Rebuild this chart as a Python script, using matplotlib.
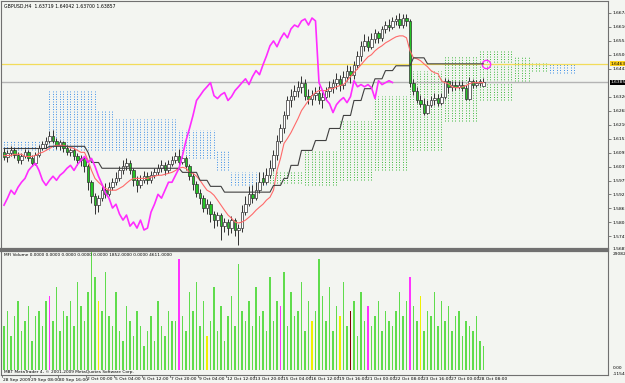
import numpy as np
import matplotlib.pyplot as plt
from matplotlib import font_manager
from matplotlib.patches import Rectangle
from matplotlib.transforms import blended_transform_factory

# ---- GBPUSD H4 data ----
opens = [1.6096, 1.6075, 1.6092, 1.6104, 1.6083, 1.6063, 1.6079, 1.6096, 1.6071, 1.6050,
         1.6083, 1.6112, 1.6129, 1.6145, 1.6162, 1.6145, 1.6125, 1.6137, 1.6112, 1.6096,
         1.6104, 1.6079, 1.6063, 1.6071, 1.6038, 1.5972, 1.5914, 1.5877, 1.5906, 1.5939,
         1.5922, 1.5951, 1.5972, 1.5988, 1.6021, 1.6038, 1.6050, 1.6021, 1.5980, 1.5959,
         1.5980, 1.5997, 1.5980, 1.6001, 1.6013, 1.6030, 1.6042, 1.6021, 1.6046, 1.6063,
         1.6079, 1.6054, 1.6071, 1.6038, 1.5997, 1.5964, 1.5927, 1.5906, 1.5865, 1.5881,
         1.5840, 1.5815, 1.5836, 1.5790, 1.5807, 1.5782, 1.5815, 1.5774, 1.5782, 1.5848,
         1.5881, 1.5922, 1.5906, 1.5939, 1.5988, 1.5972, 1.6001, 1.6030, 1.6083, 1.6145,
         1.6195, 1.6249, 1.6311, 1.6331, 1.6352, 1.6368, 1.6385, 1.6331, 1.6319, 1.6335,
         1.6344, 1.6311, 1.6327, 1.6352, 1.6368, 1.6385, 1.6401, 1.6377, 1.6410, 1.6435,
         1.6418, 1.6459, 1.6496, 1.6538, 1.6558, 1.6534, 1.6567, 1.6591, 1.6571, 1.6608,
         1.6624, 1.6616, 1.6641, 1.6649, 1.6624, 1.6653, 1.6641, 1.6385, 1.6352, 1.6315,
         1.6298, 1.6261, 1.6294, 1.6311, 1.6323, 1.6302, 1.6327, 1.6393, 1.6368, 1.6377,
         1.6368, 1.6377, 1.6364, 1.6319, 1.6393, 1.6377, 1.6385, 1.63719]
highs = [1.6112, 1.6104, 1.6121, 1.6116, 1.6096, 1.6092, 1.6108, 1.6104, 1.6083, 1.6096,
         1.6125, 1.6145, 1.6158, 1.6183, 1.6187, 1.6154, 1.6149, 1.6145, 1.6125, 1.6116,
         1.6112, 1.6092, 1.6083, 1.6079, 1.6046, 1.5980, 1.5927, 1.5918, 1.5955, 1.5968,
         1.5972, 1.5988, 1.6013, 1.6038, 1.6063, 1.6071, 1.6063, 1.6030, 1.5997, 1.6001,
         1.6017, 1.6013, 1.6017, 1.6030, 1.6046, 1.6063, 1.6054, 1.6063, 1.6079, 1.6096,
         1.6108, 1.6088, 1.6079, 1.6046, 1.6009, 1.5976, 1.5943, 1.5918, 1.5902, 1.5893,
         1.5852, 1.5848, 1.5844, 1.5823, 1.5819, 1.5832, 1.5823, 1.5799, 1.5877, 1.5914,
         1.5955, 1.5959, 1.5972, 1.6013, 1.6013, 1.6030, 1.6063, 1.6104, 1.6170, 1.6212,
         1.6269, 1.6331, 1.6360, 1.6377, 1.6393, 1.6414, 1.6401, 1.6360, 1.6356, 1.6368,
         1.6373, 1.6348, 1.6368, 1.6393, 1.6401, 1.6426, 1.6418, 1.6435, 1.6459, 1.6455,
         1.6476, 1.6517, 1.6558, 1.6587, 1.6579, 1.6591, 1.6608, 1.6600, 1.6620, 1.6641,
         1.6649, 1.6658, 1.6666, 1.6674, 1.6670, 1.6670, 1.6649, 1.6401, 1.6368, 1.6335,
         1.6323, 1.6311, 1.6331, 1.6344, 1.6340, 1.6344, 1.6406, 1.6401, 1.6393, 1.6393,
         1.6393, 1.6393, 1.6377, 1.6410, 1.6401, 1.6397, 1.6401, 1.64042]
lows = [1.6063, 1.6054, 1.6079, 1.6071, 1.6050, 1.6046, 1.6071, 1.6059, 1.6038, 1.6042,
        1.6075, 1.6104, 1.6116, 1.6133, 1.6133, 1.6108, 1.6104, 1.6096, 1.6083, 1.6079,
        1.6063, 1.6042, 1.6038, 1.6013, 1.5939, 1.5885, 1.5840, 1.5848, 1.5893, 1.5906,
        1.5914, 1.5939, 1.5959, 1.5976, 1.6005, 1.6021, 1.6005, 1.5955, 1.5931, 1.5947,
        1.5968, 1.5964, 1.5968, 1.5988, 1.6001, 1.6013, 1.6001, 1.6009, 1.6038, 1.6050,
        1.6042, 1.6046, 1.6021, 1.5980, 1.5939, 1.5910, 1.5881, 1.5848, 1.5840, 1.5807,
        1.5782, 1.5790, 1.5732, 1.5765, 1.5753, 1.5761, 1.5749, 1.5712, 1.5765, 1.5836,
        1.5873, 1.5885, 1.5898, 1.5927, 1.5959, 1.5964, 1.5988, 1.6017, 1.6063, 1.6133,
        1.6178, 1.6236, 1.6286, 1.6311, 1.6327, 1.6344, 1.6311, 1.6298, 1.6294, 1.6311,
        1.6298, 1.6278, 1.6311, 1.6327, 1.6344, 1.6360, 1.6352, 1.6360, 1.6393, 1.6385,
        1.6401, 1.6443, 1.6476, 1.6517, 1.6517, 1.6525, 1.6550, 1.6550, 1.6558, 1.6591,
        1.6600, 1.6608, 1.6624, 1.6612, 1.6612, 1.6620, 1.6368, 1.6335, 1.6302, 1.6286,
        1.6249, 1.6253, 1.6286, 1.6294, 1.6290, 1.6294, 1.6319, 1.6344, 1.6352, 1.6356,
        1.6360, 1.6352, 1.6311, 1.6311, 1.6364, 1.6368, 1.6373, 1.63700]
closes = [1.6075, 1.6092, 1.6104, 1.6083, 1.6063, 1.6079, 1.6096, 1.6071, 1.6050, 1.6083,
          1.6112, 1.6129, 1.6145, 1.6162, 1.6145, 1.6125, 1.6137, 1.6112, 1.6096, 1.6104,
          1.6079, 1.6063, 1.6071, 1.6038, 1.5972, 1.5914, 1.5877, 1.5906, 1.5939, 1.5922,
          1.5951, 1.5972, 1.5988, 1.6021, 1.6038, 1.6050, 1.6021, 1.5980, 1.5959, 1.5980,
          1.5997, 1.5980, 1.6001, 1.6013, 1.6030, 1.6042, 1.6021, 1.6046, 1.6063, 1.6079,
          1.6054, 1.6071, 1.6038, 1.5997, 1.5964, 1.5927, 1.5906, 1.5865, 1.5881, 1.5840,
          1.5815, 1.5836, 1.5790, 1.5807, 1.5782, 1.5815, 1.5774, 1.5782, 1.5848, 1.5881,
          1.5922, 1.5906, 1.5939, 1.5972, 1.5972, 1.6001, 1.6030, 1.6083, 1.6145, 1.6195,
          1.6249, 1.6311, 1.6331, 1.6352, 1.6368, 1.6385, 1.6331, 1.6319, 1.6335, 1.6344,
          1.6311, 1.6327, 1.6352, 1.6368, 1.6385, 1.6401, 1.6377, 1.6410, 1.6435, 1.6418,
          1.6459, 1.6496, 1.6538, 1.6558, 1.6534, 1.6567, 1.6591, 1.6571, 1.6608, 1.6624,
          1.6616, 1.6641, 1.6649, 1.6624, 1.6653, 1.6641, 1.6385, 1.6352, 1.6315, 1.6298,
          1.6261, 1.6294, 1.6311, 1.6323, 1.6302, 1.6327, 1.6393, 1.6368, 1.6377, 1.6368,
          1.6377, 1.6364, 1.6319, 1.6393, 1.6377, 1.6385, 1.6393, 1.63857]

tenkan = [1.6083, 1.6083, 1.6083, 1.6088, 1.6088, 1.6088, 1.6079, 1.6079, 1.6079, 1.6083,
          1.6092, 1.6096, 1.6104, 1.6112, 1.6121, 1.6125, 1.6125, 1.6125, 1.6121, 1.6116,
          1.6112, 1.6104, 1.6096, 1.6096, 1.6063, 1.6021, 1.5988, 1.5972, 1.5959, 1.5947,
          1.5939, 1.5939, 1.5939, 1.5947, 1.5955, 1.5968, 1.5980, 1.5988, 1.5988, 1.5988,
          1.5988, 1.5988, 1.5993, 1.5997, 1.6001, 1.6001, 1.6005, 1.6009, 1.6013, 1.6021,
          1.6030, 1.6034, 1.6030, 1.6013, 1.6009, 1.5997, 1.5980, 1.5959, 1.5939, 1.5931,
          1.5918, 1.5898, 1.5877, 1.5856, 1.5836, 1.5823, 1.5807, 1.5803, 1.5807, 1.5815,
          1.5827, 1.5840, 1.5856, 1.5869, 1.5881, 1.5898, 1.5910, 1.5939, 1.6021, 1.6071,
          1.6133, 1.6154, 1.6178, 1.6207, 1.6236, 1.6269, 1.6290, 1.6311, 1.6331, 1.6344,
          1.6352, 1.6352, 1.6352, 1.6360, 1.6360, 1.6368, 1.6373, 1.6377, 1.6393, 1.6410,
          1.6426, 1.6443, 1.6459, 1.6476, 1.6492, 1.6501, 1.6517, 1.6529, 1.6538, 1.6550,
          1.6558, 1.6567, 1.6575, 1.6579, 1.6579, 1.6571, 1.6517, 1.6488, 1.6484, 1.6476,
          1.6463, 1.6451, 1.6435, 1.6426, 1.6422, 1.6393, 1.6385, 1.6381, 1.6368, 1.6364,
          1.6364, 1.6368, 1.6373, 1.6381, 1.6385, 1.6385, 1.6385, 1.6385]
kijun = ([1.6112] * 13 + [1.6121] * 11 + [1.6096] + [1.6054] * 3 + [1.6030] * 23 +
         [1.6013] * 5 + [1.5980] * 3 + [1.5955] * 4 + [1.5931] * 14 + [1.5959] * 3 +
         [1.5988] * 2 + [1.6042] * 3 + [1.6104] * 4 + [1.6145] * 4 + [1.6195] * 4 +
         [1.6249] * 3 + [1.6311] * 3 + [1.6360] * 3 + [1.6401] * 3 + [1.6435] * 3 +
         [1.6455] * 5 + [1.6488] * 4 + [1.6463] * 17)
# senkou spans, 26 bars ahead of price
span_a = ([1.6104] * 13 + [1.6104] * 14 + [1.6104] * 5 + [1.6104] * 18 + [1.6071] * 11 +
          [1.6021] * 4 + [1.5959] * 11 + [1.6013] * 10 + [1.6104] * 10 + [1.6228] * 10 +
          [1.6331] * 10 + [1.6435] * 10 + [1.6496] * 10 + [1.6517] * 10 + [1.6496] * 5 +
          [1.6468] * 5 + [1.6426] * 8)
span_b = ([1.6145] * 13 + [1.6352] * 14 + [1.6269] * 5 + [1.6236] * 18 + [1.6187] * 11 +
          [1.6104] * 4 + [1.6013] * 11 + [1.5968] * 10 + [1.5959] * 10 + [1.5980] * 10 +
          [1.6021] * 10 + [1.6104] * 10 + [1.6228] * 10 + [1.6311] * 10 + [1.6393] * 5 +
          [1.6435] * 5 + [1.6468] * 8)

volumes = [10800, 14400, 8400, 13200, 16800, 9600, 12000, 15600, 7200, 13200, 14400, 10800, 16800,
           18000,
           12000, 20400, 9600, 14400, 13200, 16800, 10800, 21600, 15600, 12000,
           19200, 29082, 22800, 16800,
           14400, 24000, 13200, 10800, 19200, 9600, 7200, 15600, 12000, 8400, 14400, 10800, 6000,
           9600, 13200, 7200, 16800, 10800, 8400, 14400, 12000, 12000,
           27120,
           13200, 9600, 19200, 14400, 21600, 10800, 16800, 8400, 12000, 20400,
           9600, 15600, 7200, 13200, 18000, 10800, 25920, 14400, 12000, 16800,
           10800, 20400, 13200, 14400, 9600, 22800, 12000, 16800, 15600, 24000,
           10800, 19200, 13200, 14400, 21600, 9600, 16800, 12000, 14400,
           27120,
           18000, 12000, 20400, 9600, 15600, 13200, 21600, 10800, 14400, 16800,
           8400, 19200, 12000, 15600, 10800, 13200, 16800, 9600, 14400, 12000,
           10800, 14400, 19200, 13200, 16800, 22800, 15600, 12000, 18000, 9600,
           14400, 13200, 19200, 10800, 16800, 12000, 15600, 9600, 13200, 14400,
           8400, 12000, 10800, 9600, 13200, 7200, 6000]
# MFI bar state per bar: g=green, m=magenta, y=yellow, r=dark red
mfi_state = ("gggggggggg" "gggmgggggg" "gggggggygg" "gggggggggg" "gggggggggg"
             "mgggggggyg" "gggggggggg" "gggggggggm" "ggggggggyg" "ggggggyggr"
             "ggggmggggg" "ggggggmggy" "gggggggggg" "gggggggg")

hline_level = 1.64634
# the 1.63845 grid label sits under the bid box, so it is left out
price_labels = ['1.66740', '1.66161', '1.65582', '1.65003', '1.64424',
                '1.63266', '1.62687', '1.62108', '1.61529', '1.60950', '1.60371',
                '1.59792', '1.59213', '1.58634', '1.58055', '1.57476']
date_labels = ['28 Sep 2009', '29 Sep 08:00', '30 Sep 16:00', '2 Oct 00:00', '5 Oct 04:00',
               '6 Oct 12:00', '7 Oct 20:00', '9 Oct 04:00', '12 Oct 12:00', '13 Oct 20:00',
               '15 Oct 04:00', '16 Oct 12:00', '19 Oct 16:00', '21 Oct 00:00', '22 Oct 08:00',
               '23 Oct 16:00', '27 Oct 00:00', '28 Oct 08:00']
date_bars = [0, 8, 16, 24, 32, 40, 48, 56, 64, 72, 80, 88, 96, 104, 112, 120, 128, 136]

# narrow font, close to the terminal's small system font
installed = {f.name for f in font_manager.fontManager.ttflist}
if 'Liberation Sans Narrow' in installed:
    fam, fs = 'Liberation Sans Narrow', 4.0
else:
    fam, fs = 'DejaVu Sans', 3.2
plt.rcParams['font.family'] = [fam, 'DejaVu Sans']

W, H = 625, 383
bg = '#f3f5f1'
fig = plt.figure(figsize=(W / 100, H / 100), dpi=100)
fig.patch.set_facecolor(bg)

ax = fig.add_axes([0.0016, 1 - 249 / H, 607 / W, 248 / H])
axv = fig.add_axes([0.0016, 1 - 375 / H, 607 / W, 124 / H])
for a in (ax, axv):
    a.set_facecolor(bg)
    a.set_xlim(-3 / 3.5, 604 / 3.5)
    for s in a.spines.values():
        s.set_color('#707070')
        s.set_linewidth(0.8)
ax.spines['bottom'].set_linewidth(1.6)
axv.spines['top'].set_linewidth(1.6)

n = len(closes)
x = np.arange(n)

# ichimoku cloud as dotted vertical strokes
xs = np.arange(len(span_a))
sa = np.array(span_a)
sb = np.array(span_b)
up = sa >= sb
ax.vlines(xs[up], sb[up], sa[up], colors='#3db83d', linewidth=0.7, linestyles=(0, (1, 1.6)))
ax.vlines(xs[~up], sa[~up], sb[~up], colors='#3b8fe8', linewidth=0.7, linestyles=(0, (1, 1.6)))

# horizontal lines
ax.axhline(hline_level, color='#f2dc5a', lw=0.9)
ax.axhline(closes[-1], color='#b4b4b4', lw=1.0)

# candles
o = np.array(opens)
c = np.array(closes)
ax.vlines(x, lows, highs, colors='#303030', linewidth=0.7)
for i in range(n):
    bottom = min(o[i], c[i])
    h = max(abs(c[i] - o[i]), 0.00012)
    bull = c[i] >= o[i]
    ax.add_patch(Rectangle((i - 0.3, bottom), 0.6, h,
                           facecolor='white' if bull else '#25c425',
                           edgecolor='#303030', linewidth=0.5, zorder=3))

# ichimoku lines
ax.plot(x, tenkan, color='#ff6a6a', lw=0.8, zorder=4)
ax.plot(x, kijun, color='#404040', lw=0.8, zorder=4)
ax.plot(x[26:] - 26, closes[26:], color='#ff2cff', lw=1.2, zorder=4)
ax.plot([137.7], [hline_level - 0.0003], marker='o', ms=6, mfc='none', mec='#ff2cff', mew=1.0)

ax.set_ylim(1.56952, 1.67236)
ax.yaxis.tick_right()
ax.set_yticks([float(v) for v in price_labels])
ax.set_yticklabels(price_labels)
ax.tick_params(axis='y', labelsize=fs, length=2, pad=1, width=0.5, colors='#505050',
               labelcolor='black')
ax.set_xticks([])

tr = blended_transform_factory(ax.transAxes, ax.transData)
ax.text(1.004, hline_level, '%.5f' % hline_level, transform=tr, fontsize=fs, va='center',
        ha='left', color='black', bbox=dict(fc='#ffd21a', ec='none', pad=0.5))
ax.text(1.004, closes[-1], '%.5f' % closes[-1], transform=tr, fontsize=fs, va='center',
        ha='left', color='white', bbox=dict(fc='black', ec='none', pad=0.5))
ax.text(1.008, 1.56952, '1.56897', transform=tr, fontsize=fs, va='center', ha='left')

ax.text(0.005, 0.988, 'GBPUSD,H4  %.5f %.5f %.5f %.5f' % (opens[-1], highs[-1], lows[-1], closes[-1]),
        transform=ax.transAxes, fontsize=fs * 1.05, va='top', ha='left')

# volume panel
vcol = {'g': '#5fdc4c', 'm': '#ff33ff', 'y': '#f0f000', 'r': '#800000'}
axv.bar(x, volumes, width=0.55, color=[vcol[k] for k in mfi_state], linewidth=0)
axv.set_ylim(-1154.4, 29082.4)
axv.set_yticks([])
axv.set_xticks([])
axv.text(0.005, 0.985, 'MFI Volume 0.0000 0.0000 0.0000 0.0000 0.0000 1852.0000 0.0000 4611.0000',
         transform=axv.transAxes, fontsize=fs * 0.95, va='top', ha='left')
axv.text(0.005, 0.01, 'MBT MetaTrader 4, \u00a9 2001-2009 MetaQuotes Software Corp.',
         transform=axv.transAxes, fontsize=fs * 0.95, va='bottom', ha='left')
axv.text(1.008, 0.975, '29082.4', transform=axv.transAxes, fontsize=fs, va='center', ha='left')
axv.text(1.008, 0.055, '0.00', transform=axv.transAxes, fontsize=fs, va='center', ha='left')
axv.text(1.008, 0.005, '-1154.4', transform=axv.transAxes, fontsize=fs, va='center', ha='left')

# date axis below the volume panel
trd = blended_transform_factory(axv.transData, fig.transFigure)
for b, lab in zip(date_bars, date_labels):
    axv.text(b - 0.4, 3.5 / H, lab, transform=trd, fontsize=fs, va='center', ha='left',
             clip_on=False)
    axv.plot([b - 0.6, b - 0.6], [8 / H, 6 / H], transform=trd, color='#505050', lw=0.5,
             clip_on=False)

fig.savefig('out.png', dpi=100, facecolor=bg)
